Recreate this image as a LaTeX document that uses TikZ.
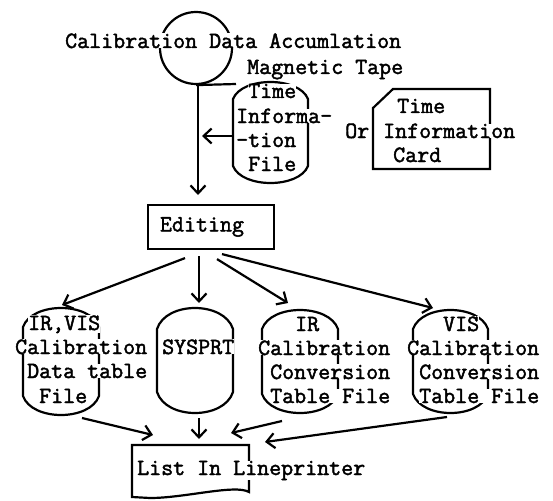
\documentclass[tikz,border=0pt]{standalone}
\usetikzlibrary{arrows.meta,calc}
\newcommand\heavytext{\special{pdf:literal direct 2 Tr 0.45 w}}
\newcommand\unheavytext{\special{pdf:literal direct 0 Tr}}
\newcommand\drumfile[2]{%
  \draw[shp] ([yshift=-#2]#1.north west)
    .. controls ([xshift=9pt,yshift={#2/3}]#1.north west) and ([xshift=-9pt,yshift={#2/3}]#1.north east) .. ([yshift=-#2]#1.north east)
    -- ([yshift=#2]#1.south east)
    .. controls ([xshift=-9pt,yshift={-#2/3}]#1.south east) and ([xshift=9pt,yshift={-#2/3}]#1.south west) .. ([yshift=#2]#1.south west)
    -- cycle;}
\begin{document}
\begin{tikzpicture}[x=1pt,y=-1pt,
  shp/.style={line width=2.2pt},
  arr/.style={line width=2.2pt,-{Straight Barb[length=8pt,width=15pt]}},
  box/.style={inner sep=0pt,outer sep=0pt,minimum width=#1},
  tfont/.style={font=\ttfamily\fontsize{23.3}{24}\selectfont,
     execute at begin node=\heavytext, execute at end node=\unheavytext},
  txt/.style={tfont,anchor=base west,fill=white,inner sep=0pt},
]
\useasboundingbox (0,0) rectangle (553,500);
% invisible shape holders
\node[circle,draw,line width=2.2pt,minimum size=72pt,inner sep=0pt] (tape) at (196,48) {};
\node[box=75pt,minimum height=101pt] (tif) at (270.5,132.5) {};
\node[box=117pt,minimum height=80pt] (card) at (431.5,129) {};
\node[box=76pt,minimum height=107pt] (fa) at (61,361.5) {};
\node[box=76pt,minimum height=105pt] (fs) at (195,360.5) {};
\node[box=76pt,minimum height=103pt] (fb) at (300,361.5) {};
\node[box=75pt,minimum height=103pt] (fv) at (450.5,361.5) {};
\node[box=117pt,minimum height=52pt] (list) at (190.5,471) {};
\node[draw,line width=2.2pt,inner sep=0pt,minimum width=126pt,minimum height=44pt,tfont] (edit) at (211,227) {Editing\hspace*{18pt}};
% shapes
\drumfile{tif}{17pt}
\drumfile{fa}{19pt}
\drumfile{fs}{21pt}
\drumfile{fb}{19pt}
\drumfile{fv}{19pt}
\draw[shp] ([yshift=-19pt]card.north west) -- ([xshift=20pt]card.north west) -- (card.north east)
  -- (card.south east) -- (card.south west) -- cycle;
\draw[shp] (list.north west) -- (list.north east) -- ([yshift=5pt]list.south east)
  .. controls ([xshift=-14pt,yshift=13pt]list.south east) and ([xshift=53pt,yshift=-1pt]list.south west) .. ([xshift=18pt,yshift=-1pt]list.south west)
  -- (list.south west) -- cycle;
% connectors
\coordinate (tapeend) at (236,84);
\coordinate (mainend) at (198,195);
\coordinate (tifin) at (202,136);
\draw[shp] (tape.south) -- (tapeend);
\draw[arr] (mainend |- tape.south) -- (mainend);
\draw[arr] (tif.west |- tifin) -- (tifin);
\draw[arr] ($(edit.south)+(-26,8)$) -- ($(fa.north)+(1,-3)$);
\draw[arr] ($(edit.south)+(-12,6)$) -- ($(fs.north)+(4,-5)$);
\draw[arr] ($(edit.south)+(6,9)$) -- ($(fb.north)+(-12,-7)$);
\draw[arr] ($(edit.south)+(11,4)$) -- ($(fv.north)+(-17.5,-2)$);
\draw[arr] ($(fa.south)+(21,3)$) -- ($(list.north west)+(21,-10)$);
\draw[arr] ($(fs.south)+(4,5)$) -- ($(list.north)+(8.5,-6)$);
\draw[arr] ($(fb.south)+(-18,8)$) -- ($(list.north east)+(-18,-12)$);
\draw[arr] ($(fv.south)+(-3.5,4)$) -- ($(list.north east)+(16,-3)$);
% texts
\node[txt] (t1) at (65,48) {Calibration Data Accumlation};
\node[txt] (t2) at (247,74) {Magnetic Tape};
\node[txt] (f1a) at (248,98) {Time};
\node[txt] (f1b) at (236,123) {Informa-};
\node[txt] (f1c) at (236,147) {-tion};
\node[txt] (f1d) at (248,171) {File};
\node[txt] (ortxt) at (345,138) {Or};
\node[txt] (c1a) at (397,113) {Time};
\node[txt] (c1b) at (383,138) {Information};
\node[txt] (c1c) at (393,162) {Card};
\node[txt] (a1) at (28,330) {IR,VIS};
\node[txt] (a2) at (15,354) {Calibration};
\node[txt] (a3) at (27,378) {Data table};
\node[txt] (a4) at (39,403) {File};
\node[txt] (s1) at (162,354) {SYSPRT};
\node[txt] (b1) at (295,331) {IR};
\node[txt] (b2) at (258,355) {Calibration};
\node[txt] (b3) at (270,379) {Conversion};
\node[txt] (b4) at (270,403) {Table File};
\node[txt] (v1) at (443,331) {VIS};
\node[txt] (v2) at (407,355) {Calibration};
\node[txt] (v3) at (419,379) {Conversion};
\node[txt] (v4) at (419,403) {Table File};
\node[txt] (l1) at (137,475) {List In Lineprinter};
\end{tikzpicture}
\end{document}
